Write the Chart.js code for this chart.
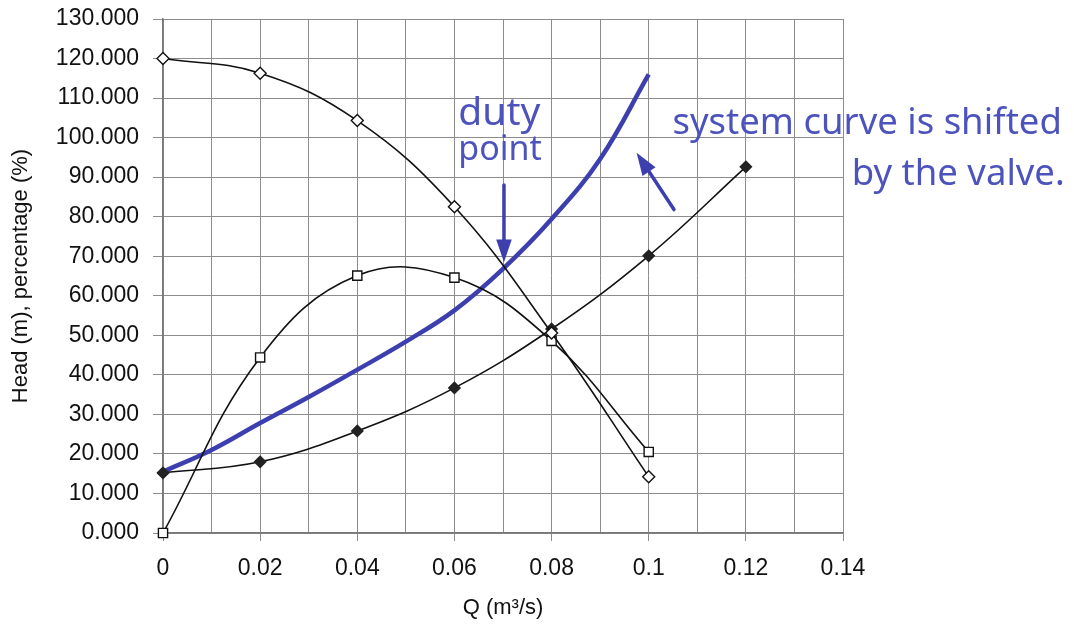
<!DOCTYPE html>
<html>
<head>
<meta charset="utf-8">
<title>Pump curves</title>
<script src="https://cdn.jsdelivr.net/npm/chart.js@4.4.1/dist/chart.umd.min.js"></script>
<style>
    body { margin: 0; background: #fff; }
    #chart-wrap { width: 1074px; height: 627px; }
</style>
</head>
<body>
<div id="chart-wrap"><canvas id="pump-chart" width="1074" height="627"></canvas></div>
<script>
// Data
const flow = [0, 0.02, 0.04, 0.06, 0.08, 0.1];
const headValues = [120, 116.3, 104.3, 82.5, 50.6, 14.2];
const efficiencyValues = [0, 44.4, 65.1, 64.6, 48.6, 20.5];

const systemFlow = [0, 0.02, 0.04, 0.06, 0.08, 0.1, 0.12];
const systemValues = [15.2, 18.0, 25.8, 36.7, 51.6, 70.1, 92.6];

// hand drawn curve (system curve with valve)
const valveFlow = [0, 0.01, 0.02, 0.03, 0.04, 0.05, 0.06, 0.07, 0.08, 0.09, 0.1];
const valveValues = [15.5, 21.0, 27.8, 34.4, 41.3, 48.4, 56.3, 66.8, 79.4, 94.6, 116];

const yTicks = [0, 10, 20, 30, 40, 50, 60, 70, 80, 90, 100, 110, 120, 130];

const inkColor = '#3d3faf';
const noteColor = '#4d53bd';

function toPoints(xs, ys) {
    return xs.map((x, i) => ({ x: x, y: ys[i] }));
}

// Handwritten notes and arrows, placed in data units
const notes = [
    { text: 'duty', x: 0.0608, y: 103.3, size: 39 },
    { text: 'point', x: 0.0608, y: 94.4, size: 34 },
    { text: 'system curve is shifted', x: 0.1049, y: 100.8, size: 36.5 },
    { text: 'by the valve.', x: 0.1418, y: 88.1, size: 36.5 }
];
const arrows = [
    { x1: 0.0702, y1: 88, x2: 0.0702, y2: 68.5 },
    { x1: 0.1052, y1: 81.8, x2: 0.0975, y2: 96.2 }
];

const notesPlugin = {
    id: 'notes',
    afterDatasetsDraw(chart) {
        const ctx = chart.ctx;
        const xs = chart.scales.x;
        const ys = chart.scales.y;
        ctx.save();
        ctx.fillStyle = noteColor;
        ctx.textBaseline = 'alphabetic';
        notes.forEach(n => {
            ctx.font = n.size + 'px "Noto Sans"';
            ctx.fillText(n.text, xs.getPixelForValue(n.x), ys.getPixelForValue(n.y));
        });

        ctx.strokeStyle = inkColor;
        ctx.fillStyle = inkColor;
        ctx.lineWidth = 3.5;
        ctx.lineCap = 'round';
        arrows.forEach(a => {
            const x1 = xs.getPixelForValue(a.x1);
            const y1 = ys.getPixelForValue(a.y1);
            const x2 = xs.getPixelForValue(a.x2);
            const y2 = ys.getPixelForValue(a.y2);
            const ang = Math.atan2(y2 - y1, x2 - x1);
            const len = 24;
            const half = 0.33;
            ctx.beginPath();
            ctx.moveTo(x1, y1);
            ctx.lineTo(x2 - Math.cos(ang) * 10, y2 - Math.sin(ang) * 10);
            ctx.stroke();
            ctx.beginPath();
            ctx.moveTo(x2, y2);
            ctx.lineTo(x2 - len * Math.cos(ang - half), y2 - len * Math.sin(ang - half));
            ctx.lineTo(x2 - len * Math.cos(ang + half), y2 - len * Math.sin(ang + half));
            ctx.closePath();
            ctx.fill();
        });
        ctx.restore();
    }
};

const whiteBg = {
    id: 'whiteBg',
    beforeDraw(chart) {
        const ctx = chart.ctx;
        ctx.save();
        ctx.fillStyle = '#fff';
        ctx.fillRect(0, 0, chart.width, chart.height);
        ctx.restore();
    }
};

const gridColor = '#8c8c8c';
const tickFont = { family: '"Liberation Sans", Arial, sans-serif', size: 23 };

new Chart(document.getElementById('pump-chart'), {
    type: 'line',
    data: {
        datasets: [
            {
                label: 'Head',
                data: toPoints(flow, headValues),
                borderColor: '#111',
                borderWidth: 1.6,
                pointStyle: 'rectRot',
                pointRadius: 6,
                pointBackgroundColor: '#fff',
                pointBorderColor: '#111',
                pointBorderWidth: 1.4,
                tension: 0.4,
                clip: false
            },
            {
                label: 'Efficiency',
                data: toPoints(flow, efficiencyValues),
                borderColor: '#111',
                borderWidth: 1.6,
                pointStyle: 'rect',
                pointRadius: 6.5,
                pointBackgroundColor: '#fff',
                pointBorderColor: '#111',
                pointBorderWidth: 1.4,
                tension: 0.4,
                clip: false
            },
            {
                label: 'System',
                data: toPoints(systemFlow, systemValues),
                borderColor: '#111',
                borderWidth: 1.6,
                pointStyle: 'rectRot',
                pointRadius: 5.5,
                pointBackgroundColor: '#222',
                pointBorderColor: '#222',
                tension: 0.4,
                clip: false
            },
            {
                label: 'System with valve',
                data: toPoints(valveFlow, valveValues),
                borderColor: inkColor,
                borderWidth: 4.5,
                pointRadius: 0,
                tension: 0.4,
                clip: false
            }
        ]
    },
    options: {
        responsive: false,
        animation: false,
        layout: {
            padding: { top: 19, right: 231, left: 0, bottom: 0 }
        },
        plugins: {
            legend: { display: false },
            tooltip: { enabled: false }
        },
        scales: {
            x: {
                type: 'linear',
                min: 0,
                max: 0.14,
                ticks: {
                    stepSize: 0.01,
                    color: '#111',
                    font: tickFont,
                    padding: 14,
                    maxRotation: 0,
                    autoSkip: false,
                    callback: (value) => {
                        const n = Math.round(value * 100);
                        if (n % 2 !== 0) return '';
                        return String(+(n / 100).toFixed(2));
                    }
                },
                grid: {
                    color: gridColor,
                    lineWidth: 1,
                    tickLength: 8,
                    tickColor: (c) => {
                        const n = Math.round(c.tick.value * 100);
                        return n % 2 === 0 ? gridColor : 'rgba(0,0,0,0)';
                    }
                },
                border: { color: '#777', width: 1.5 },
                title: {
                    display: true,
                    text: 'Q (m³/s)',
                    color: '#111',
                    font: { family: '"Liberation Sans", Arial, sans-serif', size: 22 },
                    padding: { top: 4, bottom: 6 }
                },
                afterFit: (scale) => { scale.height = 94; }
            },
            y: {
                min: 0,
                max: 130,
                afterBuildTicks: (scale) => {
                    scale.ticks = yTicks.map(v => ({ value: v }));
                },
                ticks: {
                    color: '#111',
                    font: tickFont,
                    padding: 14,
                    callback: (value) => value.toFixed(3)
                },
                grid: {
                    color: gridColor,
                    lineWidth: 1,
                    tickLength: 10
                },
                border: { color: '#777', width: 1.5 },
                title: {
                    display: true,
                    text: 'Head (m), percentage (%)',
                    color: '#111',
                    font: { family: '"Liberation Sans", Arial, sans-serif', size: 22 },
                    padding: { top: 8, bottom: 4 }
                },
                afterFit: (scale) => {
                    scale.width = 163;
                    scale.paddingTop = 0;
                    scale.paddingBottom = 0;
                }
            }
        }
    },
    plugins: [whiteBg, notesPlugin]
});
</script>
</body>
</html>
